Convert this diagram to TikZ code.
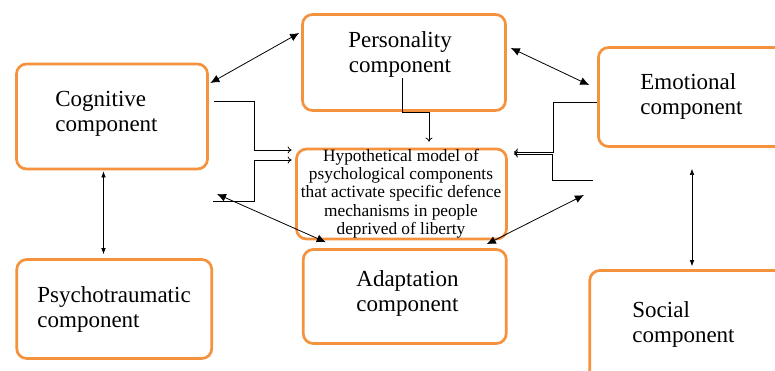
\documentclass[tikz,border=0pt]{standalone}
\usepackage{fontspec}
\setmainfont{Liberation Serif}
\usetikzlibrary{arrows.meta}
\definecolor{boxorange}{RGB}{245,146,62}
\tikzset{
x=1pt,
y=-1pt,
block/.style={draw=boxorange, line width=2.7pt, rounded corners=10pt, inner sep=0pt},
blocktext/.style={font=\fontsize{23}{25}\selectfont, align=left, anchor=west, inner sep=0pt},
}

\begin{document}
\begin{tikzpicture}
    [line width=0.8pt,
    link/.style={-{To[length=4pt,width=7pt]}},
    both/.style={{Latex[length=9pt,width=8pt]}-{Latex[length=9pt,width=8pt]}},
    updown/.style={{Latex[length=6pt,width=4.5pt]}-{Latex[length=6pt,width=4.5pt]}, line width=0.6pt}
    ]

    \useasboundingbox (0,0) rectangle (775,370);
    \clip (0,0) rectangle (775,370);
    \fill[white] (0,0) rectangle (775,370);

    % the seven boxes
    \node [block, minimum width=191pt, minimum height=105pt] (cog) at (112,116.5) {};
    \node [block, minimum width=203pt, minimum height=96pt] (pers) at (404,62.5) {};
    \node [block, minimum width=201pt, minimum height=99pt] (emo) at (699,97) {};
    \node [block, minimum width=210pt, minimum height=90pt] (hyp) at (401.5,194) {};
    \node [block, minimum width=195pt, minimum height=99pt] (psy) at (114.25,309) {};
    \node [block, minimum width=203pt, minimum height=94pt] (ada) at (404.75,296.5) {};
    \node [block, minimum width=210pt, minimum height=129pt] (soc) at (694.75,335) {};

    \node [blocktext] (cogtext) at (55,113.5) {Cognitive\\component};
    \node [blocktext, anchor=center, align=center] (perstext) at (400,54) {Personality\\component};
    \node [blocktext] (emotext) at (640,96.5) {Emotional\\component};
    \node [blocktext] (psytext) at (37,309.5) {Psychotraumatic\\component};
    \node [blocktext] (adatext) at (356,293) {Adaptation\\component};
    \node [blocktext] (soctext) at (632,324) {Social\\component};
    \node [font=\fontsize{17.3}{18.3}\selectfont, align=center, inner sep=0pt] (hyptext) at (401,193.5)
    {
        Hypothetical model of\\
        psychological components\\
        that activate specific defence\\
        mechanisms in people\\
        deprived of liberty
    };

    \coordinate (cogfoot) at (213,201);
    \coordinate (cogtip) at (217,194);
    \coordinate (emofoot) at (593,180);
    \coordinate (emotip) at (584,195);

    \draw[both] ([xshift=-2pt,yshift=29.5pt]pers.west) -- ([xshift=1.5pt,yshift=33.5pt]cog.east);
    \draw[both] ([xshift=4pt,yshift=14.5pt]pers.east) -- ([xshift=-8pt,yshift=12pt]emo.west);

    \draw[link] ([xshift=5.5pt,yshift=15.5pt]cog.east) -- ++(40,0) |- ([xshift=-3.5pt,yshift=44pt]hyp.west);
    \draw[link] (cogfoot) -- ++(41,0) |- ([xshift=-3.5pt,yshift=34pt]hyp.west);
    \draw[link] ([xshift=-2pt,yshift=-15.5pt]pers.center) -- ++(0,34) -| ([xshift=27.5pt,yshift=6pt]hyp.north);
    \draw[link] ([yshift=-5pt]emo.west) -- ++(-43.5,0) |- ([xshift=6pt,yshift=42pt]hyp.east);
    \draw[link] (emofoot) -- ++(-41,0) |- ([xshift=6pt,yshift=40pt]hyp.east);

    \draw[both] (cogtip) -- ([xshift=-79pt,yshift=6pt]ada.north);
    \draw[both] (emotip) -- ([xshift=82pt,yshift=4pt]ada.north);

    \draw[updown, shorten <=1pt, shorten >=4pt] ([xshift=-8.5pt]cog.south) -- ([xshift=-8.5pt]cog.south |- psy.north);
    \draw[updown, shorten <=21pt, shorten >=3pt] ([xshift=-7pt]emo.south) -- ([xshift=-7pt]emo.south |- soc.north);

\end{tikzpicture}
\end{document}
